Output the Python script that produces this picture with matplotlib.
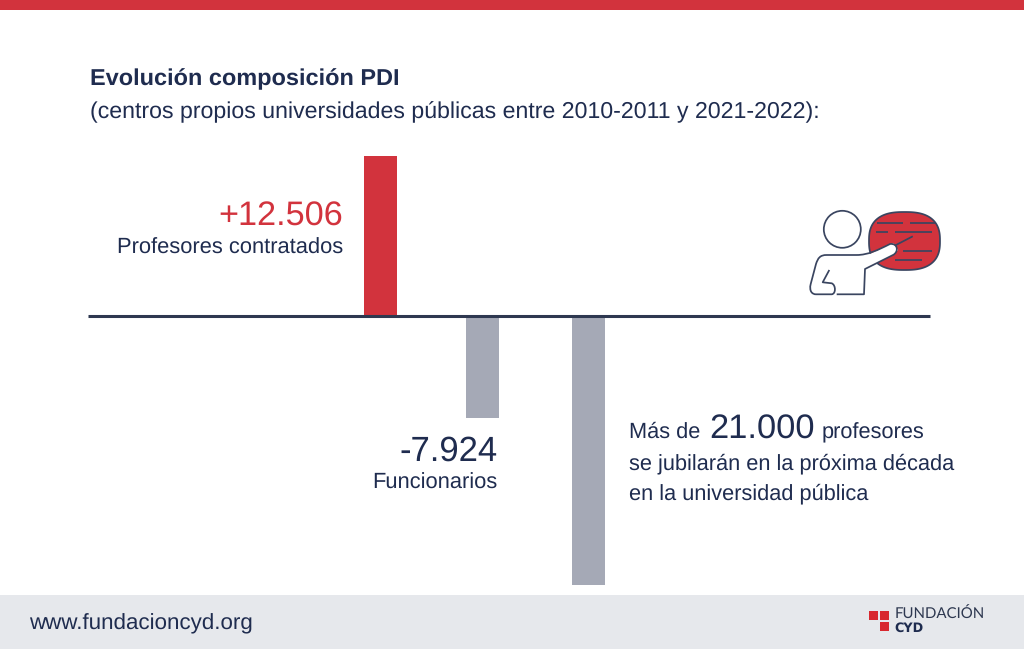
import matplotlib
matplotlib.use("Agg")
import matplotlib.pyplot as plt
import numpy as np
from matplotlib.patches import Rectangle, Circle, Polygon, PathPatch
from matplotlib.path import Path

plt.rcParams['font.family'] = ['Liberation Sans', 'DejaVu Sans']
plt.rcParams['text.hinting'] = 'no_hinting'

# data
categories = ["Profesores contratados", "Funcionarios", "Jubilaciones próxima década"]
values = [12506, -7924, -21000]
value_labels = ["+12.506", "-7.924"]
bar_colors = ["#D2333D", "#A5A9B6", "#A5A9B6"]

NAVY = "#1F2C4F"
RED = "#D2333D"
W, H = 1024, 649

fig = plt.figure(figsize=(W / 100, H / 100), dpi=100, facecolor="white")

# background layer in pixel coordinates (y down)
bg = fig.add_axes([0, 0, 1, 1])
bg.set_xlim(0, W)
bg.set_ylim(H, 0)
bg.axis("off")
bg.add_patch(Rectangle((0, 0), W, 10, color=RED, lw=0))
bg.add_patch(Rectangle((0, 595), W, 54, color="#E6E8EC", lw=0))

# chart axes: linear value scale, baseline at y=316 px
px_per_unit = 0.01282
base_px = 316
ax_top, ax_bot = 150, 590
ax = fig.add_axes([0, 1 - ax_bot / H, 1, (ax_bot - ax_top) / H])
ax.patch.set_alpha(0)
ax.set_xlim(0, W)
ax.set_ylim(-(ax_bot - base_px) / px_per_unit, (base_px - ax_top) / px_per_unit)
ax.axis("off")
centres = [380, 482, 588.5]
ax.bar(centres, values, width=33, color=bar_colors, linewidth=0, zorder=2)
ax.plot([88, 930], [0, 0], color="#2E3850", lw=2.2, solid_capstyle="butt", zorder=3)

def t(x, y, s, size, color=NAVY, ha="left", weight="normal", family=None):
    kw = {"family": family} if family else {}
    return bg.text(x, y, s, fontsize=size, color=color, ha=ha, va="baseline",
                   fontweight=weight, zorder=5, **kw)

t(90, 85, "Evolución composición PDI", 16.9, weight="bold")
t(90, 118, "(centros propios universidades públicas entre 2010-2011 y 2021-2022):", 16.63)
t(343, 226, value_labels[0], 24.7, color=RED, ha="right")
t(343.5, 254, categories[0], 15.77, ha="right")
t(497.5, 461, value_labels[1], 24.9, ha="right")
t(497.5, 489, categories[1], 15.77, ha="right")
t(629, 438, "Más de", 15.67)
t(709, 439, "21.000", 24.8)
t(822, 438, "profesores", 15.67)
t(629, 469, "se jubilarán en la próxima década", 15.67)
t(629, 499, "en la universidad pública", 15.67)
t(29, 629, "www.fundacioncyd.org", 16.1)

# presenter icon
LINE = "#3A4560"
LW = 1.25
theta = np.linspace(0, 2 * np.pi, 200)
n = 2.6
bx = 904.5 + 35.5 * np.sign(np.cos(theta)) * np.abs(np.cos(theta)) ** (2 / n)
by = 241 + 29 * np.sign(np.sin(theta)) * np.abs(np.sin(theta)) ** (2 / n)
bg.add_patch(Polygon(np.column_stack([bx, by]), closed=True, fc=RED, ec=LINE, lw=LW, zorder=3))
for x0, x1, y in [(877, 903, 222.7), (910, 936, 222.7), (876, 888, 231.7), (895, 932, 231.7),
                  (903, 932, 251), (895, 922, 260.3)]:
    bg.plot([x0, x1], [y, y], color=LINE, lw=LW, zorder=4, solid_capstyle="butt")
bg.plot([896, 912], [245, 236.7], color=LINE, lw=LW, zorder=4)
bg.add_patch(Circle((842.3, 229.3), 18.5, fc="white", ec=LINE, lw=LW, zorder=4))

M, L, C = Path.MOVETO, Path.LINETO, Path.CURVE4
body_v = [(836.7, 294.3), (864, 294.3), (865, 269), (893, 255),
          (899, 252), (898, 243), (890, 244),
          (878, 250), (868, 255), (856.7, 255),
          (826.7, 255),
          (820, 255), (818, 258), (816, 264),
          (810.7, 284),
          (809, 291), (812, 294.3), (816, 294.3),
          (831.7, 294.3),
          (836, 294), (836, 285), (831.7, 283.3),
          (822.7, 282.3), (829.3, 270)]
body_c = [M, L, L, L, C, C, C, C, C, C, L, C, C, C, L, C, C, C, L, C, C, C, L, L]
fill_v = [(836.7, 294.3), (864, 294.3), (865, 269), (893, 255), (898, 250), (894, 243.5), (890, 244),
          (868, 255), (826.7, 255), (818, 258), (810.7, 284), (811, 293), (816, 294.3)]
bg.add_patch(Polygon(fill_v, closed=True, fc="white", ec="none", zorder=4))
bg.add_patch(PathPatch(Path(body_v, body_c), fc="none", ec=LINE, lw=LW, zorder=5, joinstyle="round"))

# logo
for x, y in [(869, 611), (880, 611), (880, 622)]:
    bg.add_patch(Rectangle((x, y), 8.5, 8.5, color="#D8282F", lw=0))
t(894.5, 619, "FUNDACIÓN", 10.8, color="#2E3850", family="Lato")
t(894.5, 632, "CYD", 9.2, color="#1F2C4F", weight="bold", family="DejaVu Sans")

fig.savefig("out.png", dpi=100, facecolor="white")
